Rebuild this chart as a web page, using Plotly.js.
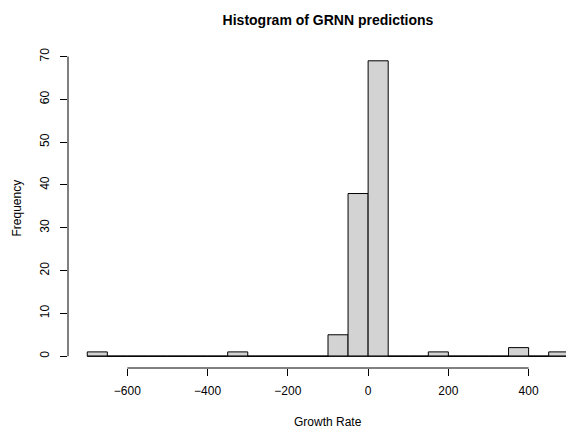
<!DOCTYPE html>
<html>
<head>
<meta charset="utf-8">
<script src="https://cdn.plot.ly/plotly-3.0.1.min.js"></script>
<style>
html,body{margin:0;padding:0;overflow:hidden;background:#fff;width:566px;height:429px;}
#chart{width:620px;height:429px;}
</style>
</head>
<body>
<div id="chart"></div>
<script>
// Histogram bins (breaks) and counts
const breaks = [-700,-650,-600,-550,-500,-450,-400,-350,-300,-250,-200,-150,-100,-50,0,50,100,150,200,250,300,350,400,450,500];
const counts = [1,0,0,0,0,0,0,1,0,0,0,0,5,38,69,0,0,1,0,0,0,2,0,1];
const xTicks = [-600,-400,-200,0,200,400];
const yTicks = [0,10,20,30,40,50,60,70];

const mids = counts.map((c,i)=> (breaks[i]+breaks[i+1])/2);
const widths = counts.map((c,i)=> breaks[i+1]-breaks[i]);

const bMin = breaks[0], bMax = breaks[breaks.length-1];
const span = bMax - bMin;
const yMax = Math.max(...counts);
const font = "Liberation Sans, Arial, Helvetica, sans-serif";

const trace = {
  type: 'bar',
  x: mids,
  y: counts,
  width: widths,
  marker: {color: '#D3D3D3', line: {color: '#000000', width: 1}},
  hoverinfo: 'skip'
};

const layout = {
  width: 620, height: 429,
  margin: {l: 68, r: 32.3, t: 48.75, b: 60.5, pad: 0},
  paper_bgcolor: '#ffffff', plot_bgcolor: '#ffffff',
  showlegend: false,
  font: {family: font, size: 12, color: '#000'},
  title: {
    text: '<b>Histogram of GRNN predictions</b>',
    font: {family: font, size: 14, color: '#000'},
    x: 0.5, xref: 'paper', y: 1 - 20/429, yref: 'container', yanchor: 'middle'
  },
  xaxis: {
    range: [bMin - 0.04*span, bMax + 0.04*span],
    tickvals: xTicks,
    ticktext: xTicks.map(v => v < 0 ? '\u2212' + Math.abs(v) : String(v)),
    ticks: 'outside', ticklen: 7, tickwidth: 1, tickcolor: '#000',
    showline: false, showgrid: false, zeroline: false,
    tickfont: {family: font, size: 12, color: '#000'},
    ticklabelstandoff: 5
  },
  yaxis: {
    range: [-0.04*yMax, yMax*1.04],
    tickvals: yTicks,
    ticks: 'outside', ticklen: 7, tickwidth: 1, tickcolor: '#000',
    tickangle: -90,
    showline: false, showgrid: false, zeroline: false,
    tickfont: {family: font, size: 12, color: '#000'},
    ticklabelstandoff: 6
  },
  shapes: [
    {type: 'line', xref: 'x', yref: 'paper', x0: xTicks[0], x1: xTicks[xTicks.length-1], y0: 0, y1: 0, line: {color: '#000', width: 1}},
    {type: 'line', xref: 'paper', yref: 'y', x0: 0, x1: 0, y0: yTicks[0], y1: yTicks[yTicks.length-1], line: {color: '#000', width: 1}},
    {type: 'line', xref: 'x', yref: 'y', x0: bMin, x1: bMax, y0: 0, y1: 0, line: {color: '#000', width: 1}, layer: 'above'}
  ],
  annotations: [
    {text: 'Growth Rate', xref: 'paper', yref: 'paper', x: 0.5, y: 0, xanchor: 'center', yanchor: 'middle', yshift: -53.5, showarrow: false, font: {family: font, size: 12, color: '#000'}},
    {text: 'Frequency', xref: 'paper', yref: 'paper', x: 0, y: 0.5, xanchor: 'center', yanchor: 'middle', xshift: -52, textangle: -90, showarrow: false, font: {family: font, size: 12, color: '#000'}}
  ]
};

Plotly.newPlot('chart', [trace], layout, {staticPlot: true, displayModeBar: false});
</script>
</body>
</html>
